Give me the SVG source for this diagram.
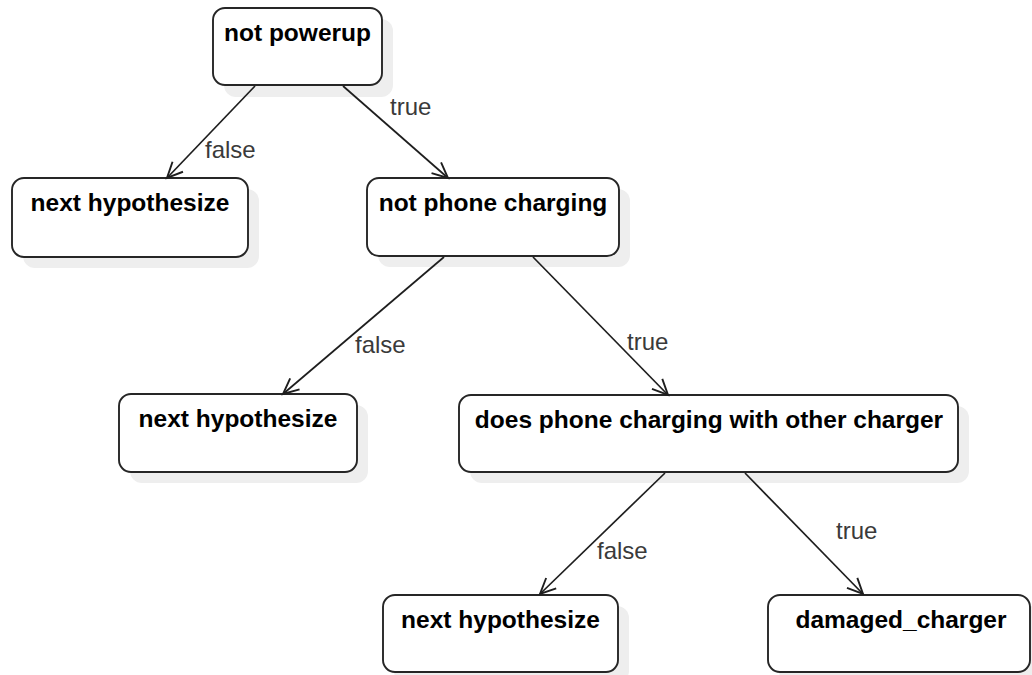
<svg xmlns="http://www.w3.org/2000/svg" width="1032" height="675" viewBox="0 0 1032 675">
  <style>
    .box { fill: #ffffff; stroke: #262626; stroke-width: 1.9; }
    .shadow { fill: #eeeeee; stroke: none; }
    .title { font-family: "Liberation Sans", Arial, sans-serif; font-weight: bold; font-size: 24.5px; fill: #000000; text-anchor: middle; }
    .edge { fill: none; stroke: #1e1e1e; stroke-width: 1.7; marker-end: url(#open-arrow); }
    .lbl { font-family: "Liberation Sans", Arial, sans-serif; font-size: 24px; fill: #3a3a3a; }
  </style>
  <defs>
    <marker id="open-arrow" markerUnits="userSpaceOnUse" markerWidth="20" markerHeight="20" viewBox="-16 -8 18 16" refX="0" refY="0" orient="auto">
      <path d="M-14,-6.5 L0,0 L-14,6.5" fill="none" stroke="#1e1e1e" stroke-width="1.7"/>
    </marker>
  </defs>

  <rect width="1032" height="675" fill="#ffffff"/>

  <!-- decision nodes -->
  <g id="n-not-powerup">
    <rect class="shadow" x="224" y="19" width="169" height="78" rx="12"/>
    <rect class="box" x="213" y="8" width="169" height="77" rx="12"/>
    <text class="title" x="297.5" y="41">not powerup</text>
  </g>
  <g id="n-next-1">
    <rect class="shadow" x="23" y="189" width="236" height="79" rx="12"/>
    <rect class="box" x="12" y="178" width="236" height="79" rx="12"/>
    <text class="title" x="130" y="211">next hypothesize</text>
  </g>
  <g id="n-not-phone-charging">
    <rect class="shadow" x="378" y="189" width="252" height="78" rx="12"/>
    <rect class="box" x="367" y="178" width="252" height="78" rx="12"/>
    <text class="title" x="493" y="211">not phone charging</text>
  </g>
  <g id="n-next-2">
    <rect class="shadow" x="130" y="405" width="238" height="78" rx="12"/>
    <rect class="box" x="119" y="394" width="238" height="78" rx="12"/>
    <text class="title" x="238" y="427">next hypothesize</text>
  </g>
  <g id="n-other-charger">
    <rect class="shadow" x="470" y="406" width="499" height="77" rx="12"/>
    <rect class="box" x="459" y="395" width="499" height="77" rx="12"/>
    <text class="title" x="709" y="428">does phone charging with other charger</text>
  </g>
  <g id="n-next-3">
    <rect class="shadow" x="394" y="606" width="235" height="77" rx="12"/>
    <rect class="box" x="383" y="595" width="235" height="77" rx="12"/>
    <text class="title" x="500.5" y="628">next hypothesize</text>
  </g>
  <g id="n-damaged-charger">
    <rect class="shadow" x="779" y="606" width="262" height="77" rx="12"/>
    <rect class="box" x="768" y="595" width="262" height="77" rx="12"/>
    <text class="title" x="901" y="628">damaged_charger</text>
  </g>

  <!-- connectors with branch labels -->
  <g id="connectors">
    <line class="edge" x1="255" y1="86" x2="167" y2="178"/>
    <line class="edge" x1="343" y1="86" x2="448" y2="178"/>
    <line class="edge" x1="444" y1="257" x2="283" y2="394"/>
    <line class="edge" x1="533" y1="257" x2="668" y2="395"/>
    <line class="edge" x1="665" y1="473" x2="540" y2="594"/>
    <line class="edge" x1="745" y1="473" x2="863" y2="594"/>
    <text class="lbl" x="205" y="158">false</text>
    <text class="lbl" x="390" y="115">true</text>
    <text class="lbl" x="355" y="353">false</text>
    <text class="lbl" x="627" y="350">true</text>
    <text class="lbl" x="597" y="559">false</text>
    <text class="lbl" x="836" y="539">true</text>
  </g>
</svg>
